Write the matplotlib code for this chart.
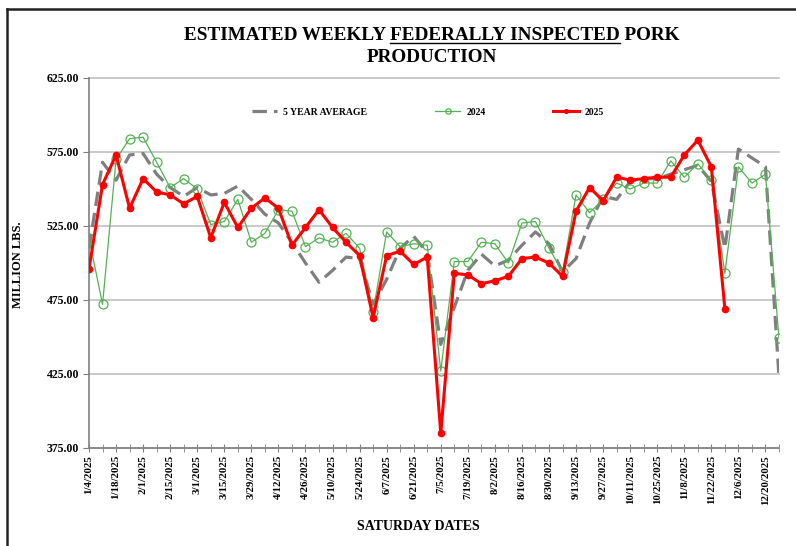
import matplotlib
matplotlib.use("Agg")
import matplotlib.pyplot as plt
from matplotlib.lines import Line2D
from matplotlib.ticker import FuncFormatter
import numpy as np

# Saturday week-ending dates, 2025
weeks = [
    "1/4/2025", "1/11/2025", "1/18/2025", "1/25/2025", "2/1/2025", "2/8/2025",
    "2/15/2025", "2/22/2025", "3/1/2025", "3/8/2025", "3/15/2025", "3/22/2025",
    "3/29/2025", "4/5/2025", "4/12/2025", "4/19/2025", "4/26/2025", "5/3/2025",
    "5/10/2025", "5/17/2025", "5/24/2025", "5/31/2025", "6/7/2025", "6/14/2025",
    "6/21/2025", "6/28/2025", "7/5/2025", "7/12/2025", "7/19/2025", "7/26/2025",
    "8/2/2025", "8/9/2025", "8/16/2025", "8/23/2025", "8/30/2025", "9/6/2025",
    "9/13/2025", "9/20/2025", "9/27/2025", "10/4/2025", "10/11/2025", "10/18/2025",
    "10/25/2025", "11/1/2025", "11/8/2025", "11/15/2025", "11/22/2025", "11/29/2025",
    "12/6/2025", "12/13/2025", "12/20/2025", "12/27/2025",
]

# million lbs
avg_5yr = [510, 568, 556, 573, 574, 560, 551, 545, 551, 546, 547, 552, 543,
           533, 527, 514, 500, 487, 495, 504, 503, 472, 489, 510, 518, 507,
           445, 470, 495, 506, 498, 502, 512, 521, 513, 494, 503, 527, 545,
           543, 555, 557, 557, 560, 563, 566, 555, 510, 577, 571, 565, 423]
prod_2024 = [517, 472, 570, 584, 585, 568, 551, 557, 550, 526, 528, 543, 514,
             520, 536, 535, 511, 517, 514, 520, 510, 467, 521, 511, 513, 512,
             427, 501, 501, 514, 513, 500, 527, 528, 510, 494, 546, 534, 543,
             554, 550, 554, 554, 569, 558, 567, 556, 493, 565, 554, 560, 449]
prod_2025 = [496, 553, 573, 537, 557, 548, 546, 540, 545, 517, 541, 524, 537,
             544, 537, 512, 524, 536, 524, 514, 505, 463, 505, 508, 499, 504,
             385, 493, 492, 486, 488, 491, 503, 504, 500, 491, 535, 551, 542,
             558, 556, 557, 558, 558, 573, 583, 565, 469]
y_ticks = [375, 425, 475, 525, 575, 625]

plt.rcParams['font.family'] = ['Liberation Serif', 'DejaVu Serif']
plt.rcParams['font.weight'] = 'bold'

W, H = 796, 546
fig = plt.figure(figsize=(W / 100, H / 100), dpi=100)
ax = fig.add_axes([89 / W, 1 - 448 / H, 690 / W, 370 / H])

x = np.arange(len(weeks))
ax.plot(x, avg_5yr, color='#7f7f7f', lw=2.3, ls=(0, (4.5, 2.2)),
        label='5 YEAR AVERAGE', zorder=2)
ax.plot(x, prod_2024, color='#55b155', lw=0.9, marker='o', ms=6.5,
        mfc='none', mec='#55b155', mew=0.9, label='2024', zorder=3)
ax.plot(x[:len(prod_2025)], prod_2025, color='#ff0000', lw=2.2, marker='o',
        ms=4.5, label='2025', zorder=4)

ax.set_xlim(0, len(weeks) - 1)
ax.set_ylim(y_ticks[0], y_ticks[-1])
ax.set_yticks(y_ticks)
ax.yaxis.set_major_formatter(FuncFormatter(lambda v, p: f'{v:.2f}'))
ax.grid(axis='y', color='#c0c0c0', lw=1.2, clip_on=False)
ax.set_axisbelow(True)

ax.set_xticks(x[::2])
ax.set_xticklabels(weeks[::2], rotation=90, fontsize=7.8)
ax.set_xticks(x[1::2], minor=True)
ax.tick_params(axis='x', which='both', direction='inout', length=6,
               color='#808080', pad=2)
ax.tick_params(axis='y', direction='out', length=4, color='#808080',
               labelsize=8.5, pad=3)

for s in ('top', 'right'):
    ax.spines[s].set_visible(False)
for s in ('left', 'bottom'):
    ax.spines[s].set_color('#808080')
    ax.spines[s].set_linewidth(1.2)

ax.legend(loc='center', bbox_to_anchor=(0.491, 0.908), ncol=3, frameon=False,
          fontsize=7, handlelength=2.6, columnspacing=7, handletextpad=0.6,
          markerscale=0.6)

# title, with the underlined part
title_size = 13.8
title1 = "ESTIMATED WEEKLY FEDERALLY INSPECTED PORK"
t1 = fig.text(432 / W, 1 - 35 / H, title1, ha='center', va='center',
              fontsize=title_size, weight='bold')
fig.text(432 / W, 1 - 57 / H, "PRODUCTION", ha='center', va='center',
         fontsize=title_size, weight='bold')

fig.canvas.draw()
r = fig.canvas.get_renderer()


def text_width(s):
    t = fig.text(0, 0, s, fontsize=title_size, weight='bold')
    w = t.get_window_extent(r).width
    t.remove()
    return w


bb = t1.get_window_extent(r)
ul_end = bb.x0 + text_width("ESTIMATED WEEKLY FEDERALLY INSPECTED")
ul_start = ul_end - text_width("FEDERALLY INSPECTED")
fig.add_artist(Line2D([ul_start / W, ul_end / W], [1 - 43 / H, 1 - 43 / H],
                      transform=fig.transFigure, color='black', lw=1.0))

fig.text(18 / W, 1 - 265 / H, "MILLION LBS.", rotation=90, ha='center',
         va='center', fontsize=9, weight='bold')
fig.text(418 / W, 1 - 527 / H, "SATURDAY DATES", ha='center', va='center',
         fontsize=10, weight='bold')

# chart frame (left and top edges visible in the crop)
fig.add_artist(Line2D([7 / W, 7 / W], [0, 1 - 9 / H], transform=fig.transFigure,
                      color='#222222', lw=1.8))
fig.add_artist(Line2D([7 / W, 1], [1 - 9 / H, 1 - 9 / H], transform=fig.transFigure,
                      color='#222222', lw=1.8))

fig.savefig("out.png", dpi=100)
